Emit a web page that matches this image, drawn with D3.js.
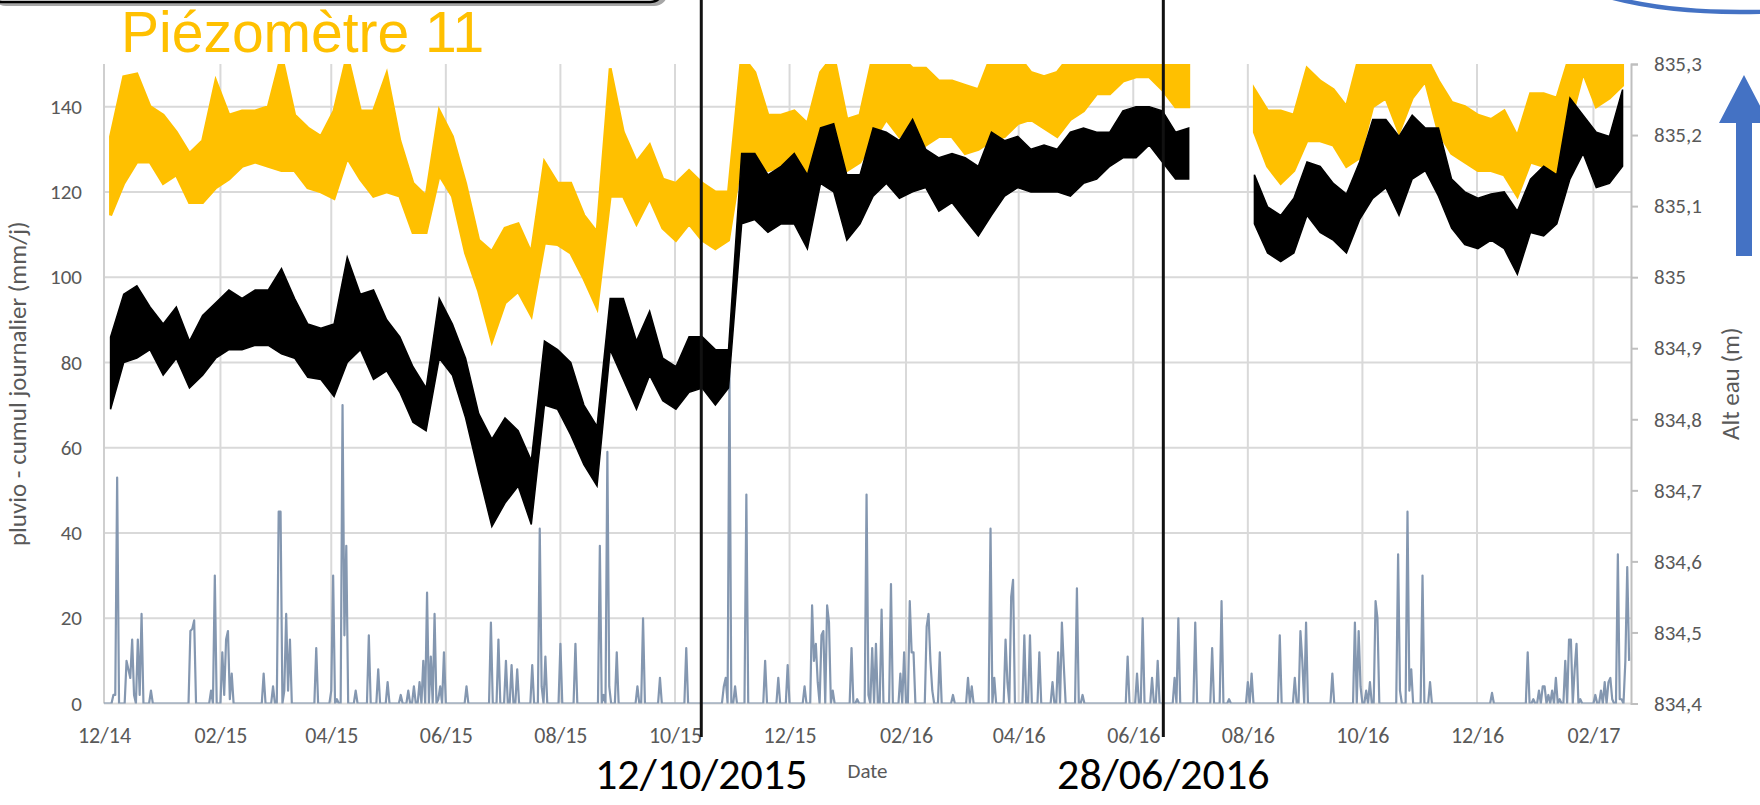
<!DOCTYPE html>
<html>
<head>
<meta charset="utf-8">
<script src="https://cdn.jsdelivr.net/npm/d3@7"></script>
<style>
  body { margin: 0; background: #fff; overflow: hidden; }
  svg text { font-family: Carlito, Calibri, Lato, sans-serif; }
</style>
</head>
<body>
<script>
// ---- data ----
var startDate = new Date(2014, 11, 1);
var endDate = new Date(2017, 1, 21);

// water level (m), weekly max / min of the noisy record, week 0 starts 01/12/2014
var blackHi = [834.916, 834.976, 834.988, 834.958, 834.934, 834.958, 834.910, 834.946, 834.964, 834.982,
  834.970, 834.982, 834.982, 835.012, 834.970, 834.934, 834.928, 834.934, 835.028, 834.976,
  834.982, 834.940, 834.916, 834.874, 834.844, 834.970, 834.934, 834.886, 834.808, 834.772,
  834.802, 834.784, 834.742, 834.910, 834.898, 834.880, 834.820, 834.790, 834.970, 834.970,
  834.910, 834.952, 834.886, 834.874, 834.916, 834.916, 834.898, 834.898, 835.174, 835.174,
  835.144, 835.156, 835.174, 835.144, 835.210, 835.216, 835.144, 835.144, 835.210, 835.204,
  835.192, 835.222, 835.180, 835.168, 835.174, 835.168, 835.156, 835.204, 835.192, 835.198,
  835.180, 835.186, 835.180, 835.204, 835.210, 835.204, 835.204, 835.234, 835.240, 835.240,
  835.234, 835.204, 835.210, null, null, null, null, 835.144, 835.099, 835.087,
  835.111, 835.162, 835.156, 835.132, 835.117, 835.162, 835.222, 835.222, 835.198, 835.228,
  835.210, 835.210, 835.138, 835.120, 835.111, 835.117, 835.120, 835.093, 835.138, 835.156,
  835.144, 835.252, 835.228, 835.204, 835.198, 835.264];
var blackLo = [834.814, 834.880, 834.886, 834.898, 834.862, 834.886, 834.844, 834.862, 834.886, 834.898,
  834.898, 834.904, 834.904, 834.892, 834.886, 834.859, 834.856, 834.832, 834.880, 834.898,
  834.856, 834.868, 834.838, 834.796, 834.784, 834.886, 834.862, 834.802, 834.724, 834.649,
  834.682, 834.706, 834.652, 834.820, 834.814, 834.778, 834.736, 834.706, 834.898, 834.856,
  834.814, 834.862, 834.826, 834.814, 834.838, 834.844, 834.820, 834.844, 835.075, 835.081,
  835.063, 835.075, 835.075, 835.040, 835.132, 835.120, 835.052, 835.075, 835.114, 835.132,
  835.111, 835.120, 835.126, 835.093, 835.105, 835.081, 835.058, 835.087, 835.114, 835.126,
  835.120, 835.120, 835.120, 835.114, 835.132, 835.138, 835.156, 835.168, 835.168, 835.186,
  835.162, 835.138, 835.138, null, null, null, null, 835.075, 835.034, 835.022,
  835.034, 835.087, 835.063, 835.052, 835.034, 835.081, 835.111, 835.126, 835.087, 835.138,
  835.150, 835.114, 835.069, 835.046, 835.040, 835.052, 835.040, 835.004, 835.063, 835.058,
  835.075, 835.138, 835.174, 835.126, 835.132, 835.156];

// orange record (m), same weeks; it runs above the top of the axis in places
var orangeHi = [835.198, 835.282, 835.286, 835.240, 835.228, 835.204, 835.174, 835.192, 835.276, 835.228,
  835.234, 835.234, 835.240, 835.312, 835.228, 835.210, 835.198, 835.234, 835.312, 835.234,
  835.234, 835.286, 835.192, 835.132, 835.114, 835.234, 835.198, 835.132, 835.052, 835.036,
  835.069, 835.075, 835.034, 835.162, 835.132, 835.132, 835.087, 835.063, 835.294, 835.204,
  835.162, 835.186, 835.138, 835.132, 835.150, 835.132, 835.120, 835.120, 835.312, 835.288,
  835.228, 835.228, 835.234, 835.216, 835.288, 835.312, 835.222, 835.228, 835.312, 835.312,
  835.312, 835.294, 835.294, 835.276, 835.276, 835.270, 835.264, 835.312, 835.312, 835.312,
  835.288, 835.282, 835.288, 835.312, 835.312, 835.312, 835.312, 835.312, 835.312, 835.312,
  835.312, 835.312, 835.312, null, null, null, null, 835.264, 835.234, 835.234,
  835.228, 835.294, 835.276, 835.264, 835.240, 835.312, 835.312, 835.312, 835.312, 835.312,
  835.312, 835.276, 835.246, 835.240, 835.228, 835.222, 835.234, 835.198, 835.258, 835.258,
  835.252, 835.312, 835.312, 835.312, 835.312, 835.312];
var orangeLo = [835.087, 835.132, 835.162, 835.162, 835.132, 835.144, 835.105, 835.105, 835.126, 835.138,
  835.156, 835.162, 835.156, 835.150, 835.150, 835.126, 835.120, 835.111, 835.168, 835.138,
  835.114, 835.120, 835.114, 835.063, 835.063, 835.144, 835.114, 835.034, 834.980, 834.910,
  834.964, 834.980, 834.946, 835.048, 835.046, 835.034, 834.998, 834.957, 835.114, 835.114,
  835.075, 835.111, 835.069, 835.052, 835.075, 835.052, 835.040, 835.052, 835.168, 835.162,
  835.150, 835.156, 835.156, 835.132, 835.180, 835.192, 835.150, 835.162, 835.192, 835.222,
  835.198, 835.222, 835.186, 835.198, 835.198, 835.174, 835.180, 835.192, 835.198, 835.216,
  835.222, 835.210, 835.198, 835.222, 835.234, 835.258, 835.258, 835.276, 835.282, 835.282,
  835.264, 835.240, 835.240, null, null, null, null, 835.204, 835.156, 835.132,
  835.150, 835.192, 835.192, 835.186, 835.156, 835.168, 835.240, 835.252, 835.204, 835.252,
  835.276, 835.204, 835.174, 835.162, 835.150, 835.150, 835.144, 835.114, 835.162, 835.156,
  835.144, 835.216, 835.288, 835.240, 835.252, 835.270];

// daily rain: day number after 01/12/2014 and mm/j (days not listed: no rain)
var rainDay = [5, 6, 7, 12, 13, 14, 15, 16, 18, 19, 20, 25,
  46, 47, 48, 57, 59, 63, 64, 65, 66, 67, 68,
  85, 90, 93, 94, 96, 97, 98, 99,
  113, 121, 122, 124, 127, 128, 129, 134,
  141, 146, 151, 158, 162, 165, 168, 170, 172, 174, 176, 178, 179, 181,
  193, 206, 210, 214, 217, 220, 228, 232, 233, 235, 243, 251, 264, 266, 268, 269,
  273, 284, 287, 296, 310, 330, 331, 333, 336, 342, 352, 359, 364,
  373, 377, 378, 379, 380, 382, 383, 385, 386, 388,
  398, 401, 406, 407,
  409, 411, 414, 419, 424, 426, 429, 430, 431, 438, 439, 440, 441, 445, 452, 460, 462, 472, 474,
  480, 481, 483, 484, 490, 493, 498, 505, 508, 510, 511, 518, 521,
  545, 550, 553, 558, 561, 570, 572, 581, 590, 595, 599, 609, 611, 626, 634, 637, 638, 640,
  654, 666, 668, 669, 672, 674, 677, 678,
  689, 690, 694, 695, 696, 702, 706, 739, 758, 761, 764, 766, 767, 769, 771, 773, 775,
  778, 780, 781, 783, 784, 786, 794, 797, 799, 801, 802, 803, 806, 807, 808, 810, 811, 812];
var rainMm = [2, 2, 53, 10, 8, 6, 15, 2, 15, 2, 21, 3,
  17, 17.5, 19.5, 3, 30, 12, 2, 15, 17, 1, 7,
  7, 4, 45, 45, 3, 21, 3, 15,
  13, 3, 30, 1, 70, 16, 37, 3,
  16, 8, 5, 2, 3, 4, 5, 10, 26, 11, 21, 1, 4, 12,
  4, 19, 15, 10, 9, 8, 9, 41, 4, 11, 14, 14, 37, 2, 59, 4,
  12, 4, 20, 6, 13, 4, 6, 78, 4, 49, 10, 6, 9,
  4, 23, 10, 14, 5, 16, 17, 23, 19, 3,
  13, 1, 49, 2,
  13, 14, 22, 28, 7, 12, 24, 12, 12, 18, 21, 10, 3, 12, 2, 6, 4, 41, 6,
  15, 5, 25, 29, 16, 16, 12, 5, 12, 19, 9, 27, 2,
  11, 7, 20, 6, 10, 6, 20, 19, 13, 24, 1, 5, 7, 16, 6, 17, 10, 19,
  7, 19, 17, 4, 3, 5, 24, 20,
  35, 3, 45, 3, 8, 30, 5, 2.5, 12, 1, 3, 4, 4, 2, 3, 6, 1,
  10, 15, 15, 8, 14, 1, 2, 3, 5, 5, 6, 1, 35, 1, 1, 10, 32, 10];

var leftTicks = [0, 20, 40, 60, 80, 100, 120, 140];
var rightTicks = [834.4, 834.5, 834.6, 834.7, 834.8, 834.9, 835.0, 835.1, 835.2, 835.3];
var markerDates = [new Date(2015, 9, 15), new Date(2016, 5, 17)];
var markerLabels = ["12/10/2015", "28/06/2016"];

// ---- layout ----
var svgWidth = 1760, svgHeight = 805;
var margin = {top: 64, right: 129, bottom: 101.5, left: 104};
var width = svgWidth - margin.left - margin.right;
var height = svgHeight - margin.top - margin.bottom;

var svg = d3.select("body").append("svg")
  .attr("width", svgWidth)
  .attr("height", svgHeight);

var xScale = d3.scaleTime().domain([startDate, endDate]).range([0, width]);
var yLeft = d3.scaleLinear().domain([0, 150]).range([height, 0]);
var yRight = d3.scaleLinear().domain([834.4, 835.3]).range([height, 0]);
var monthTicks = d3.timeMonth.range(startDate, endDate, 2);

var commaFmt = d3.formatLocale({decimal: ",", thousands: " ", grouping: [3], currency: ["", ""]}).format(".1~f");

// box peeking in at the top left (with its shadow)
svg.append("rect")
  .attr("x", -8).attr("y", -76).attr("width", 676).attr("height", 82).attr("rx", 14)
  .attr("fill", "#a6a6a6");
svg.append("rect")
  .attr("x", -12).attr("y", -80).attr("width", 676).attr("height", 82).attr("rx", 14)
  .attr("fill", "#fff").attr("stroke", "#000").attr("stroke-width", 2.5);

svg.append("text")
  .attr("x", 121).attr("y", 52)
  .style("font-family", "'Liberation Sans', Arial, sans-serif")
  .style("font-size", "57px")
  .attr("fill", "#FFC000")
  .text("Piézomètre 11");

var chartGroup = svg.append("g").attr("transform", `translate(${margin.left}, ${margin.top})`);

svg.append("defs").append("clipPath").attr("id", "plotClip")
  .append("rect").attr("x", 0).attr("y", 0).attr("width", width).attr("height", height);

// gridlines
chartGroup.append("g").selectAll("line")
  .data(leftTicks)
  .enter().append("line")
  .attr("x1", 0).attr("x2", width)
  .attr("y1", d => yLeft(d)).attr("y2", d => yLeft(d))
  .attr("stroke", "#d9d9d9").attr("stroke-width", 2);

chartGroup.append("g").selectAll("line")
  .data(monthTicks)
  .enter().append("line")
  .attr("x1", d => xScale(d)).attr("x2", d => xScale(d))
  .attr("y1", 0).attr("y2", height)
  .attr("stroke", d => +d === +startDate ? "#cfcfcf" : "#d9d9d9").attr("stroke-width", 2);

// left axis
var leftAxis = d3.axisLeft(yLeft).tickValues(leftTicks).tickSize(0).tickPadding(22);
var gl = chartGroup.append("g").call(leftAxis);
gl.select(".domain").remove();
gl.selectAll("text").attr("fill", "#595959").style("font-size", "21px");

// right axis
var rightAxis = d3.axisRight(yRight).tickValues(rightTicks).tickSize(7).tickPadding(16).tickFormat(commaFmt);
var gr = chartGroup.append("g").attr("transform", `translate(${width}, 0)`).call(rightAxis);
gr.select(".domain").attr("stroke", "#bfbfbf").attr("stroke-width", 2);
gr.selectAll("line").attr("stroke", "#bfbfbf").attr("stroke-width", 2);
gr.selectAll("text").attr("fill", "#595959").style("font-size", "21px");

// bottom axis
var bottomAxis = d3.axisBottom(xScale).tickValues(monthTicks).tickSize(0).tickPadding(24)
  .tickFormat(d3.timeFormat("%m/%y"));
var gb = chartGroup.append("g").attr("transform", `translate(0, ${height})`).call(bottomAxis);
gb.select(".domain").remove();
gb.selectAll("text").attr("fill", "#595959").style("font-size", "22px");

// axis titles
chartGroup.append("text")
  .attr("transform", `translate(-78, ${height / 2}) rotate(-90)`)
  .attr("text-anchor", "middle")
  .attr("fill", "#595959")
  .style("font-size", "25px")
  .text("pluvio - cumul journalier (mm/j)");

chartGroup.append("text")
  .attr("transform", `translate(${width + 108}, ${height / 2}) rotate(-90)`)
  .attr("text-anchor", "middle")
  .attr("fill", "#595959")
  .style("font-size", "25px")
  .text("Alt eau (m)");

chartGroup.append("text")
  .attr("x", width / 2).attr("y", height + 74)
  .attr("text-anchor", "middle")
  .attr("fill", "#595959")
  .style("font-size", "21px")
  .text("Date");

// ---- series ----
var rainByDay = new Map(rainDay.map((d, i) => [d, rainMm[i]]));
var rainSeries = d3.range(0, 813).map(d => ({date: d3.timeDay.offset(startDate, d), mm: rainByDay.get(d) || 0}));

function weekDate(i) {
  return new Date(+startDate + (7 * i + 3.5) * 864e5);
}
var blackSeries = blackHi.map((v, i) => ({date: weekDate(i), hi: v, lo: blackLo[i]}));
var orangeSeries = orangeHi.map((v, i) => ({date: weekDate(i), hi: v, lo: orangeLo[i]}));

var plot = chartGroup.append("g").attr("clip-path", "url(#plotClip)");

plot.append("path")
  .datum(rainSeries)
  .attr("fill", "none")
  .attr("stroke", "#8497B0")
  .attr("stroke-width", 2.2)
  .attr("stroke-linejoin", "round")
  .attr("d", d3.line().x(d => xScale(d.date)).y(d => yLeft(d.mm)));

var band = d3.area()
  .defined(d => d.hi != null)
  .x(d => xScale(d.date))
  .y0(d => yRight(d.lo))
  .y1(d => yRight(d.hi));

plot.append("path")
  .datum(orangeSeries)
  .attr("fill", "#FFC000")
  .attr("stroke", "#FFC000")
  .attr("stroke-width", 3)
  .attr("d", band);

plot.append("path")
  .datum(blackSeries)
  .attr("fill", "#000")
  .attr("stroke", "#000")
  .attr("stroke-width", 1.5)
  .attr("d", band);

// ---- annotations ----
svg.selectAll(".marker")
  .data(markerDates)
  .enter().append("line")
  .attr("class", "marker")
  .attr("x1", d => margin.left + xScale(d)).attr("x2", d => margin.left + xScale(d))
  .attr("y1", 0).attr("y2", 737)
  .attr("stroke", "#111").attr("stroke-width", 3);

svg.selectAll(".markerLabel")
  .data(markerDates)
  .enter().append("text")
  .attr("class", "markerLabel")
  .attr("x", d => margin.left + xScale(d))
  .attr("y", 789)
  .attr("text-anchor", "middle")
  .attr("fill", "#000")
  .style("font-size", "44px")
  .text((d, i) => markerLabels[i]);

// blue ellipse and arrow on the right
svg.append("ellipse")
  .attr("cx", 1740).attr("cy", -48).attr("rx", 197).attr("ry", 60)
  .attr("fill", "none").attr("stroke", "#4472C4").attr("stroke-width", 4.5);

svg.append("polygon")
  .attr("points", "1744,75 1719,123 1736,123 1736,256 1752,256 1752,123 1769,123")
  .attr("fill", "#4472C4");
</script>
</body>
</html>
